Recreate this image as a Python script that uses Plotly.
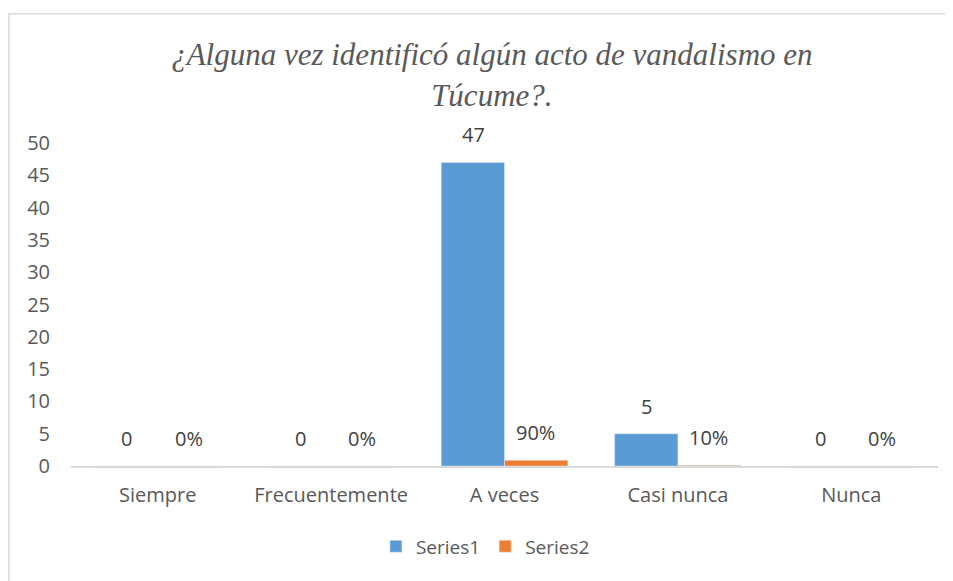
import plotly.graph_objects as go

categories = ["Siempre", "Frecuentemente", "A veces", "Casi nunca", "Nunca"]
series1 = [0, 0, 47, 5, 0]
series2 = [0, 0, 0.9, 0.1, 0]

grey = "#595959"
font_body = "Open Sans"

fig = go.Figure()
fig.add_trace(go.Bar(x=categories, y=series1, name="Series1", marker_color="#5B9BD5"))
fig.add_trace(go.Bar(x=categories, y=series2, name="Series2", marker_color="#ED7D31"))

# data labels, placed like Excel (above each bar)
for cat, v1, v2 in zip(categories, series1, series2):
    fig.add_annotation(x=cat, y=v1, text=str(v1), showarrow=False,
                       xshift=-31, yshift=12, yanchor="bottom",
                       font=dict(size=20, color="#404040", family=font_body))
    fig.add_annotation(x=cat, y=v2, text=f"{v2:.0%}", showarrow=False,
                       xshift=31, yshift=12, yanchor="bottom",
                       font=dict(size=20, color="#404040", family=font_body))

# page body has an 8px margin, so the figure is shifted by that much
fig.update_layout(
    width=945, height=573,
    paper_bgcolor="white", plot_bgcolor="white",
    margin=dict(l=63, r=15, t=135, b=115, autoexpand=False),
    barmode="group", bargap=0.27, bargroupgap=0,
    font=dict(family=font_body, color=grey, size=19),
    title=dict(
        text="¿Alguna vez identificó algún acto de vandalismo en<br>Túcume?.",
        x=0.512, xanchor="center", y=0.9, yanchor="middle",
        font=dict(family="Liberation Serif, DejaVu Serif, serif", size=31,
                  color=grey, style="italic"),
    ),
    showlegend=True,
    legend=dict(orientation="h", x=0.478, xanchor="center", y=-0.19, yanchor="top",
                font=dict(size=19, color=grey)),
)
fig.update_xaxes(showline=True, linecolor="#D9D9D9", linewidth=1.5, automargin=False,
                 ticks="", tickfont=dict(size=20, color=grey), ticklabelstandoff=10)
fig.update_yaxes(range=[0, 50], dtick=5, showgrid=False, zeroline=False, automargin=False,
                 showline=False, tickfont=dict(size=20, color=grey), ticklabelstandoff=20)

# outer chart border
fig.add_shape(type="rect", xref="paper", yref="paper",
              x0=-0.0715, x1=1.2, y0=-0.5, y1=1.4,
              line=dict(color="#D9D9D9", width=1.5), layer="below")

fig.write_html("out.html")
